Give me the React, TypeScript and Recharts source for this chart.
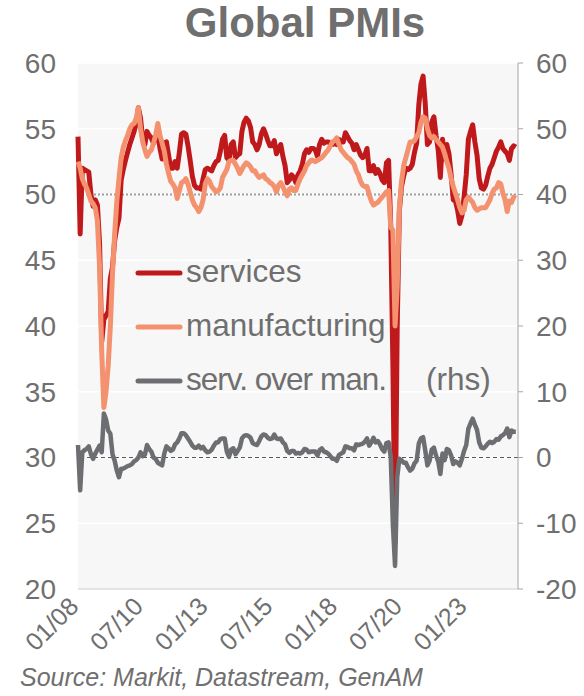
import React from 'react';
import { LineChart, Line, XAxis, YAxis, CartesianGrid, ReferenceLine } from 'recharts';

// monthly readings, Jan 2008 .. Dec 2024
const SERVICES = [
  54.4, 47.0, 52.0, 51.9, 51.8, 51.7, 50.0, 49.1, 49.6, 49.2, 46.3, 38.8,
  40.5, 40.8, 41.1, 43.6, 44.5, 46.5, 47.5, 48.2, 51.1, 51.9, 52.6, 53.2,
  53.8, 54.3, 54.8, 55.4, 56.6, 55.8, 54.2, 53.8, 54.8, 54.5, 54.3, 53.9,
  54.3, 54.6, 53.5, 52.7, 53.9, 54.0, 53.0, 52.0, 52.0, 52.5, 52.0, 53.2,
  54.6, 54.7, 54.6, 53.7, 52.6, 51.4, 50.7, 50.5, 50.5, 50.4, 51.2, 51.9,
  52.0, 51.9, 51.8, 52.2, 52.5, 52.6, 53.3, 54.2, 54.5, 52.8, 52.6, 53.8,
  54.0, 52.8, 53.0, 53.1, 54.8, 55.5, 55.8, 55.6, 55.1, 54.0, 53.8, 53.4,
  53.8, 54.6, 55.0, 54.6, 54.1, 53.7, 53.7, 54.1, 53.1, 53.5, 53.8, 52.9,
  52.2, 50.9, 51.1, 51.5, 51.3, 50.9, 51.5, 51.8, 52.3, 53.1, 53.4, 53.2,
  53.5, 53.5, 53.4, 52.9, 53.8, 54.2, 53.9, 54.0, 54.0, 53.9, 53.8, 53.9,
  53.8, 54.2, 54.0, 54.0, 54.7, 54.4, 54.1, 53.9, 53.4, 53.8, 53.4, 53.0,
  52.8, 53.0, 53.5, 51.8, 51.8, 52.2, 51.6, 51.9, 51.6, 51.1, 50.9, 52.4,
  52.6, 47.6, 37.0, 23.5, 40.0, 48.8, 50.6, 51.4, 52.0, 51.9, 52.0, 52.3,
  53.2, 53.9, 56.8, 58.4, 59.0, 56.9, 53.8, 54.0, 55.5, 55.9, 54.5, 53.4,
  51.3, 54.2, 52.7, 53.8, 53.1, 51.5, 49.6, 49.5, 48.8, 47.8, 48.4, 49.8,
  51.5, 54.2, 54.8, 55.3, 54.0, 53.0, 51.2, 50.5, 50.4, 50.7, 51.4, 52.0,
  52.3, 52.8, 53.3, 53.6, 54.0, 53.5, 53.3, 53.1, 52.6, 53.5, 53.7, 53.6,
];

const MANUFACTURING = [
  52.5, 52.0, 51.2, 50.8, 50.5, 50.0, 49.5, 49.3, 49.0, 48.0, 44.5, 38.0,
  33.8, 35.0, 37.0, 40.0, 44.0, 47.0, 49.5, 51.2, 52.8, 53.6, 54.1, 54.5,
  55.0, 55.3, 55.4, 55.8, 56.6, 55.0, 54.0, 53.4, 52.9, 53.2, 53.4, 53.9,
  54.5, 55.4, 54.5, 53.9, 53.3, 52.3, 51.6, 51.0, 50.8, 50.5, 49.7, 50.3,
  50.9, 51.0, 51.2, 50.8, 50.2, 49.6, 49.2, 49.0, 48.7, 49.0, 49.6, 50.8,
  51.2, 51.0, 50.6, 50.4, 50.2, 50.3, 50.5, 51.3, 51.6, 51.9, 52.5, 52.6,
  52.6, 52.3, 52.0, 51.6, 51.9, 52.2, 52.4, 52.3, 52.1, 51.8, 51.8, 51.5,
  51.3, 51.4, 51.5, 51.2, 51.1, 50.9, 50.8, 50.6, 50.2, 50.7, 50.9, 50.6,
  50.2, 49.9, 50.4, 50.5, 50.3, 50.3, 50.8, 51.2, 51.5, 51.8, 52.2, 52.4,
  52.6, 52.6, 52.5, 52.6, 52.7, 52.8, 53.0, 53.2, 53.4, 53.7, 54.0, 54.1,
  54.3, 53.8, 53.4, 53.2, 53.0, 52.8, 52.7, 52.5, 52.3, 51.8, 51.5, 51.0,
  50.7, 50.6, 50.6, 50.0, 49.5, 49.2, 49.3, 49.4, 49.6, 49.8, 50.0, 50.2,
  50.3, 47.5, 47.3, 40.0, 43.0, 49.0, 51.0, 52.2, 52.8, 53.4, 54.0, 54.0,
  54.1, 54.4, 54.7, 55.5, 55.9, 55.8, 55.0, 54.5, 54.3, 54.4, 54.2, 54.0,
  53.8, 53.6, 53.1, 52.5, 52.0, 51.2, 50.6, 50.1, 49.6, 49.0, 48.6, 48.8,
  49.6, 49.8, 49.6, 49.4, 49.0, 48.8, 48.9, 49.0, 49.0, 49.0, 49.3, 49.6,
  50.1, 50.4, 50.5, 50.9, 50.8, 50.1, 49.6, 48.7, 49.5, 49.4, 49.8, 49.7,
];

// services minus manufacturing, right axis
const SERV_OVER_MAN = [
  1.9, -5.0, 0.8, 1.1, 1.3, 1.7, 0.5, -0.2, 0.6, 1.2, 1.8, 0.8,
  6.7, 5.8, 4.1, 3.6, 0.5, -0.5, -2.0, -3.0, -1.7, -1.7, -1.5, -1.3,
  -1.2, -1.0, -0.6, -0.4, 0.0, 0.8, 0.2, 0.4, 1.9, 1.3, 0.9, 0.0,
  -0.2, -0.8, -1.0, -1.2, 0.6, 1.7, 1.4, 1.0, 1.2, 2.0, 2.3, 2.9,
  3.7, 3.7, 3.4, 2.9, 2.4, 1.8, 1.5, 1.5, 1.8, 1.4, 1.6, 1.1,
  0.8, 0.9, 1.2, 1.8, 2.3, 2.3, 2.8, 2.9, 2.9, 0.9, 0.1, 1.2,
  1.4, 0.5, 1.0, 1.5, 2.9, 3.3, 3.4, 3.3, 3.0, 2.2, 2.0, 1.9,
  2.5, 3.2, 3.5, 3.4, 3.0, 2.8, 2.9, 3.5, 2.9, 2.8, 2.9, 2.3,
  2.0, 1.0, 0.7, 1.0, 1.0, 0.6, 0.7, 0.6, 0.8, 1.3, 1.2, 0.8,
  0.9, 0.9, 0.9, 0.3, 1.1, 1.4, 0.9, 0.8, 0.6, 0.2, -0.2, -0.2,
  -0.5, 0.4, 0.6, 0.8, 1.7, 1.6, 1.4, 1.4, 1.1, 2.0, 1.9, 2.0,
  2.1, 2.4, 2.9, 1.8, 2.3, 3.0, 2.3, 2.5, 2.0, 1.3, 0.9, 2.2,
  2.3, 0.1, -10.3, -16.5, -3.0, -0.2, -0.4, -0.8, -0.8, -1.5, -2.0, -1.7,
  -0.9, -0.5, 2.1, 2.9, 3.1, 1.1, -1.2, -0.5, 1.2, 1.5, 0.3, -0.6,
  -2.5, 0.6, -0.4, 1.3, 1.1, 0.3, -1.0, -0.6, -0.8, -1.2, -0.2, 1.0,
  1.9, 4.4, 5.2, 5.9, 5.0, 4.2, 2.3, 1.5, 1.4, 1.7, 2.1, 2.4,
  2.2, 2.4, 2.8, 2.7, 3.2, 3.4, 3.7, 4.4, 3.1, 4.1, 3.9, 3.9,
];

const TICK_MONTHS = [0, 30, 60, 90, 120, 150, 180];
const TICK_LABELS = ['01/08', '07/10', '01/13', '07/15', '01/18', '07/20', '01/23'];
const LEFT_TICKS = [20, 25, 30, 35, 40, 45, 50, 55, 60];
const RIGHT_TICKS = [-20, -10, 0, 10, 20, 30, 40, 50, 60];

const LEGEND = [
  { label: 'services', note: '', color: '#c0191c' },
  { label: 'manufacturing', note: '', color: '#f4916f' },
  { label: 'serv. over man.', note: '(rhs)', color: '#6d6e71' },
];

const TEXT = '#6f6f6f';
const FONT = '"Liberation Sans", Arial, sans-serif';

const data = SERVICES.map((v, i) => ({
  month: i,
  services: v,
  manufacturing: MANUFACTURING[i],
  spread: SERV_OVER_MAN[i],
}));

// rotated date labels under the x axis
const DateTick = ({ x, y, payload }: any) => {
  const label = TICK_LABELS[TICK_MONTHS.indexOf(payload.value)];
  const tx = x + 2;
  const ty = y + 19;
  return (
    <text x={tx} y={ty} transform={`rotate(-45, ${tx}, ${ty})`} textAnchor="end" fontSize={25} fill={TEXT} fontFamily={FONT}>
      {label}
    </text>
  );
};

const axisText = { fontSize: 28, fill: TEXT, fontFamily: FONT };

export default function App() {
  return (
    <div style={{ position: 'relative', width: 584, height: 696, background: '#fff' }}>
      <style>{'body{margin:0}'}</style>
      <LineChart width={584} height={696} data={data} margin={{ top: 63, right: 6, left: 18, bottom: 27 }}>
        <CartesianGrid vertical={false} yAxisId="left" fill="#f7f7f7" stroke="#ffffff" strokeWidth={1.5} />
        <XAxis
          dataKey="month"
          type="number"
          domain={[0, 204]}
          ticks={TICK_MONTHS}
          interval={0}
          tick={<DateTick />}
          tickLine={false}
          tickSize={0}
          tickMargin={0}
          height={80}
          axisLine={{ stroke: '#c8c8c8' }}
        />
        <YAxis
          yAxisId="left"
          domain={[20, 60]}
          ticks={LEFT_TICKS}
          interval={0}
          width={60}
          axisLine={false}
          tickLine={false}
          tickSize={0}
          tickMargin={22}
          tick={axisText}
        />
        <YAxis
          yAxisId="right"
          orientation="right"
          domain={[-20, 60]}
          ticks={RIGHT_TICKS}
          interval={0}
          width={60}
          axisLine={{ stroke: '#a6a6a6' }}
          tickLine={{ stroke: '#a6a6a6' }}
          tickSize={5}
          tickMargin={13}
          tick={axisText}
        />
        <ReferenceLine yAxisId="left" y={50} stroke="#9d9d9d" strokeWidth={2} strokeDasharray="2 2" />
        <ReferenceLine yAxisId="right" y={0} stroke="#595959" strokeWidth={1.2} strokeDasharray="4 3" />
        <Line yAxisId="left" dataKey="services" stroke="#c0191c" strokeWidth={5} strokeLinejoin="round" dot={false} isAnimationActive={false} />
        <Line yAxisId="left" dataKey="manufacturing" stroke="#f4916f" strokeWidth={5} strokeLinejoin="round" dot={false} isAnimationActive={false} />
        <Line yAxisId="right" dataKey="spread" stroke="#6d6e71" strokeWidth={4.5} strokeLinejoin="round" dot={false} isAnimationActive={false} />
      </LineChart>

      <svg width={584} height={696} style={{ position: 'absolute', left: 0, top: 0, pointerEvents: 'none' }}>
        <text x={305} y={37} textAnchor="middle" fontSize={42} fontWeight="bold" fill={TEXT} fontFamily={FONT}>
          Global PMIs
        </text>
        {LEGEND.map((item, i) => {
          const cy = 273 + i * 54;
          return (
            <g key={item.label}>
              <line x1={138} x2={180} y1={cy} y2={cy} stroke={item.color} strokeWidth={5} strokeLinecap="round" />
              <text x={186} y={cy + 9} fontSize={31.5} fill={TEXT} fontFamily={FONT}>
                {item.note ? (
                  <>
                    <tspan textLength={201} lengthAdjust="spacing">{item.label}</tspan>
                    <tspan x={426}>{item.note}</tspan>
                  </>
                ) : (
                  item.label
                )}
              </text>
            </g>
          );
        })}
        <text x={20} y={686} fontSize={25} fontStyle="italic" fill={TEXT} fontFamily={FONT}>
          Source: Markit, Datastream, GenAM
        </text>
      </svg>
    </div>
  );
}
